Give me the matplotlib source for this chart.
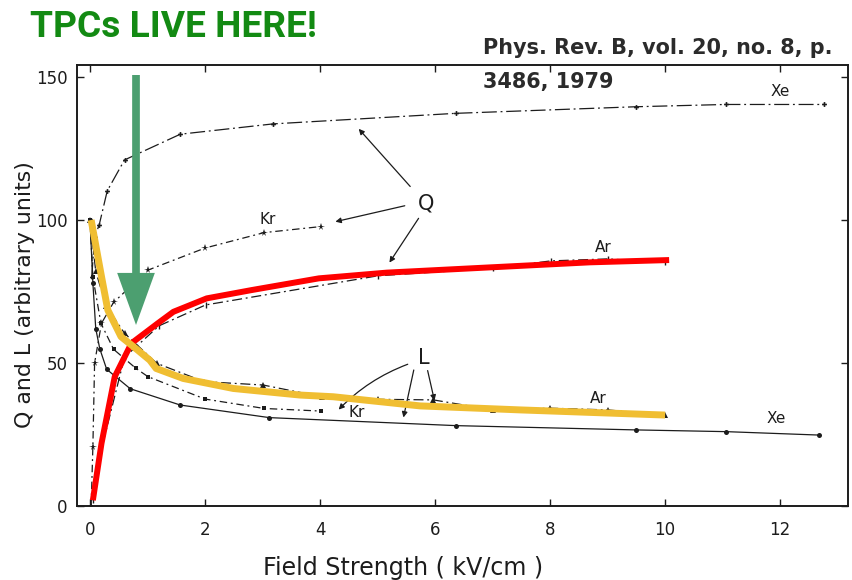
import matplotlib
matplotlib.use("Agg")
import matplotlib.pyplot as plt
from matplotlib.patches import FancyArrow

# ---------------- data ----------------
# Q curves (charge)
xe_q_x = [0.03, 0.08, 0.16, 0.30, 0.60, 1.57, 3.18, 6.36, 9.49, 11.05, 12.76]
xe_q_y = [80.0, 94.0, 98.3, 110.2, 121.0, 130.0, 133.6, 137.3, 139.6, 140.4, 140.4]

kr_q_x = [0.02, 0.05, 0.08, 0.20, 0.41, 1.01, 2.00, 3.03, 4.01]
kr_q_y = [0.0, 20.7, 50.0, 63.9, 71.2, 82.5, 90.2, 95.6, 97.7]

ar_q_x = [0.05, 0.20, 0.60, 1.20, 2.01, 5.01, 7.01, 8.01, 9.00, 10.00]
ar_q_y = [2.0, 20.0, 52.0, 63.0, 70.3, 80.5, 83.1, 85.7, 86.4, 85.2]

# L curves (light)
xe_l_x = [0.0, 0.05, 0.10, 0.17, 0.29, 0.70, 1.57, 3.12, 6.37, 9.50, 11.06, 12.68]
xe_l_y = [100.0, 78.0, 62.0, 55.0, 47.8, 41.0, 35.3, 30.9, 28.1, 26.6, 26.0, 24.8]

kr_l_x = [0.0, 0.05, 0.19, 0.41, 0.80, 1.01, 2.00, 3.03, 4.01]
kr_l_y = [100.0, 80.0, 63.9, 54.8, 48.1, 45.2, 37.4, 34.1, 33.2]

ar_l_x = [0.0, 0.10, 0.28, 0.60, 1.16, 1.98, 3.01, 4.03, 5.01, 5.97, 7.01, 8.00, 9.00, 10.00]
ar_l_y = [100.0, 82.0, 70.0, 60.4, 49.9, 43.5, 42.3, 38.2, 37.3, 37.1, 33.6, 34.2, 33.6, 31.8]

# highlighted overlay curves
red_x = [0.05, 0.20, 0.43, 0.72, 1.18, 1.45, 2.03, 2.81, 3.98, 5.16, 6.92, 8.69, 10.07]
red_y = [2.0, 21.9, 45.2, 56.9, 63.9, 67.9, 72.6, 75.5, 79.6, 81.6, 83.4, 85.2, 86.0]

yel_x = [0.02, 0.20, 0.31, 0.54, 0.83, 1.04, 1.15, 1.62, 2.49, 3.65, 4.23, 5.74, 7.48, 10.0]
yel_y = [100.0, 80.2, 68.5, 59.2, 54.5, 51.0, 48.1, 44.6, 41.1, 38.8, 38.2, 35.0, 33.6, 31.8]

x_ticks = [0, 2, 4, 6, 8, 10, 12]
y_ticks = [0, 50, 100, 150]

W, H = 852, 580

# ---------------- figure ----------------
fig = plt.figure(figsize=(W / 100, H / 100), dpi=100)
ax = fig.add_axes([77 / W, 1 - 506 / H, (848 - 77) / W, (506 - 65) / H])
ax.set_xlim(-0.226, 13.18)
ax.set_ylim(0.0, 154.2)

ink = "#1c1c1c"
lw = 0.9

ax.plot(xe_q_x, xe_q_y, color=ink, lw=lw, ls=(0, (12, 3, 1.5, 3)), marker="P", ms=3.5, mew=0)
ax.plot(kr_q_x, kr_q_y, color=ink, lw=lw, ls=(0, (6, 3, 1.5, 3)), marker="*", ms=5.5, mew=0)
ax.plot(ar_q_x, ar_q_y, color=ink, lw=lw, ls=(0, (8, 3, 1.5, 3)), marker="|", ms=4)

ax.plot(xe_l_x, xe_l_y, color=ink, lw=lw, ls="-", marker="o", ms=3.6, mew=0)
ax.plot(kr_l_x, kr_l_y, color=ink, lw=lw, ls=(0, (6, 3, 1.5, 3)), marker="s", ms=2.8, mew=0)
ax.plot(ar_l_x, ar_l_y, color=ink, lw=lw, ls=(0, (8, 3, 1.5, 3)), marker="^", ms=4.5, mew=0)

# overlays
ax.plot(red_x, red_y, color="#ff0000", lw=4.3, solid_capstyle="butt", zorder=5)
ax.plot(yel_x, yel_y, color="#f0be32", lw=5.0, solid_capstyle="butt", zorder=6)

# curve labels
lab_kw = dict(fontsize=11, color=ink, ha="center", va="center")
ax.text(12.0, 144.9, "Xe", **lab_kw)
ax.text(3.09, 100.3, "Kr", **lab_kw)
ax.text(8.92, 90.3, "Ar", **lab_kw)
ax.text(4.64, 32.6, "Kr", **lab_kw)
ax.text(8.84, 37.7, "Ar", **lab_kw)
ax.text(11.94, 30.7, "Xe", **lab_kw)

# Q and L pointers
ax.text(5.84, 105.8, "Q", fontsize=15, color=ink, ha="center", va="center")
ax.text(5.80, 51.6, "L", fontsize=15, color=ink, ha="center", va="center")
arr = dict(arrowstyle="-|>", color=ink, lw=0.9, mutation_scale=8)
for (tx, ty), (sx, sy) in [((4.64, 132.6), (5.60, 111.0)),
                           ((4.22, 99.2), (5.52, 105.2)),
                           ((5.18, 84.3), (5.74, 101.4))]:
    ax.annotate("", xy=(tx, ty), xytext=(sx, sy), arrowprops=arr)
for (tx, ty), (sx, sy), rad in [((4.29, 33.0), (5.57, 49.9), 0.12),
                                ((5.44, 30.0), (5.64, 48.5), 0.0),
                                ((6.00, 35.9), (5.86, 48.3), 0.0)]:
    a = dict(arr)
    a["connectionstyle"] = f"arc3,rad={rad}"
    ax.annotate("", xy=(tx, ty), xytext=(sx, sy), arrowprops=a)

# green arrow overlay
ax.add_patch(FancyArrow(0.80, 150.7, 0.0, -(150.7 - 63.3), width=0.134,
                        head_width=0.655, head_length=18.2,
                        length_includes_head=True, color="#4c9f70", lw=0, zorder=7))

# axes styling
ax.set_xticks(x_ticks)
ax.set_yticks(y_ticks)
ax.tick_params(direction="in", top=True, right=True, length=5, width=1.0,
               labelsize=12, labelcolor=ink, color=ink)
ax.tick_params(axis="x", pad=11)
ax.tick_params(axis="y", pad=7)
for s in ax.spines.values():
    s.set_color(ink)
    s.set_linewidth(1.4)

# axis labels placed in figure pixels
xl = fig.text(403 / W, 1 - 568 / H, "Field Strength ( kV/cm )", fontsize=15.5,
              color=ink, ha="center", va="center")
yl = fig.text(25 / W, 1 - 295 / H, "Q and L (arbitrary units)", fontsize=15.5,
              color=ink, ha="center", va="center", rotation=90)

# header texts
t1 = fig.text(30 / W, 1 - 27 / H, "TPCs LIVE HERE!", family=["Roboto", "DejaVu Sans"],
              fontweight="bold", fontsize=25, color="#138a13", ha="left", va="center")
t2 = fig.text(483 / W, 1 - 48 / H, "Phys. Rev. B, vol. 20, no. 8, p.",
              family=["DejaVu Sans"], fontweight="bold", fontsize=14,
              color="#2b2b2b", ha="left", va="center")
t3 = fig.text(483 / W, 1 - 82 / H, "3486, 1979",
              family=["DejaVu Sans"], fontweight="bold", fontsize=14,
              color="#2b2b2b", ha="left", va="center")

# fit text widths to the reference
fig.canvas.draw()
r = fig.canvas.get_renderer()
def fit(t, target, horizontal=True):
    bb = t.get_window_extent(r)
    cur = bb.width if horizontal else bb.height
    t.set_fontsize(t.get_fontsize() * target / cur)
fit(t1, 288)
fit(t2, 349)
t3.set_fontsize(t2.get_fontsize())
fit(xl, 280)
fit(yl, 266, horizontal=False)

fig.savefig("out.png", dpi=100)
